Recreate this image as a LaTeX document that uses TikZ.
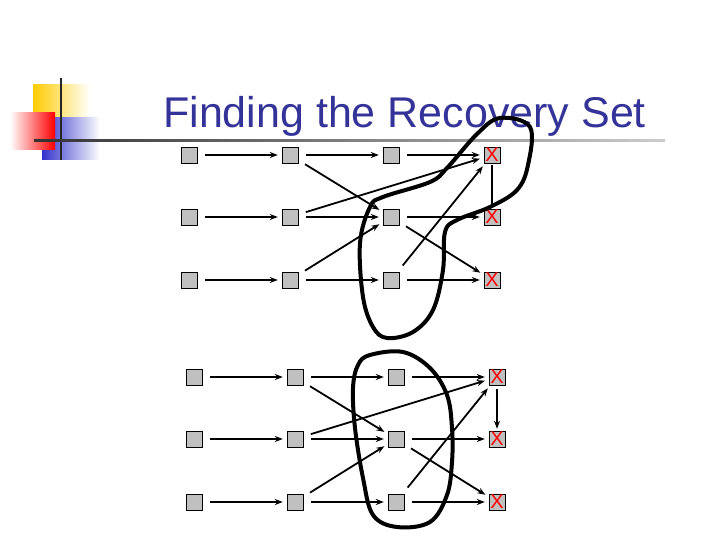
\documentclass[tikz,border=0pt]{standalone}
\usepackage{fontspec}
\setmainfont{Liberation Sans}
\usepackage{tikz}
\usetikzlibrary{arrows.meta}
\definecolor{titlecolor}{RGB}{51, 51, 153}
\definecolor{boxcolor}{RGB}{192, 192, 192}
\definecolor{logoyellow}{RGB}{255, 204, 0}
\definecolor{logoblue}{RGB}{51, 51, 204}

\begin{document}
\begin{tikzpicture}[
    x=1pt, y=-1pt,
    cell/.style={rectangle, draw, fill=boxcolor, minimum size=16pt, inner sep=0pt},
    lost/.style={cell, text=red, font=\fontsize{20}{20}\selectfont},
    arrow/.style={-{Stealth[length=8pt, width=6pt]}, line width=1.8pt, shorten <=8pt, shorten >=4pt},
    link/.style={line width=1.8pt, shorten <=2pt, shorten >=2pt},
    blob/.style={line width=4pt, line join=round}
]
\useasboundingbox (0,0) rectangle (720,540);

% Logo
\shade[left color=logoyellow, right color=white] (33,85) rectangle (90,130);
\shade[left color=logoblue, right color=white] (42,118) rectangle (100,160);
\shade[left color=white, right color=red] (10,113) rectangle (55,150);
\draw[line width=2.5pt, black!85] (61,78) -- (61,160);
\shade[left color=black!80, right color=black!20] (34,139.5) rectangle (665,141.5);

% Title
\node[font=\fontsize{43}{43}\selectfont, text=titlecolor, anchor=base west, inner sep=0pt] (title) at (163,128) {Finding the Recovery Set};

% Upper graph
\node[cell] (a11) at (189,155) {};
\node[cell] (a12) at (290,155) {};
\node[cell] (a13) at (391,155) {};
\node[lost] (a14) at (492,155) {X};
\node[cell] (a21) at (189,217) {};
\node[cell] (a22) at (290,217) {};
\node[cell] (a23) at (391,217) {};
\node[lost] (a24) at (492,217) {X};
\node[cell] (a31) at (189,280) {};
\node[cell] (a32) at (290,280) {};
\node[cell] (a33) at (391,280) {};
\node[lost] (a34) at (492,280) {X};

\draw[arrow] (a11) -- (a12);
\draw[arrow] (a12) -- (a13);
\draw[arrow] (a13) -- (a14);
\draw[arrow] (a21) -- (a22);
\draw[arrow] (a22) -- (a23);
\draw[arrow] (a23) -- (a24);
\draw[arrow] (a31) -- (a32);
\draw[arrow] (a32) -- (a33);
\draw[arrow] (a33) -- (a34);
\draw[arrow] (a12) -- (a23);
\draw[arrow] (a22) -- (a14);
\draw[arrow] (a32) -- (a23);
\draw[arrow] (a23) -- (a34);
\draw[arrow] (a33) -- (a14);
\draw[link] (a14) -- (a24);

% Upper recovery set
\draw[blob] plot[smooth cycle, tension=0.6] coordinates {
    (530,127) (528,165) (517,190) (490,207) (457,220) (445,232) (443,270)
    (433,310) (413,332) (387,338) (373,327) (363,297) (360,243) (370,207)
    (383,197) (430,182) (447,168) (477,134) (500,118)};

% Lower graph
\node[cell] (b11) at (194,377) {};
\node[cell] (b12) at (295,377) {};
\node[cell] (b13) at (396,377) {};
\node[lost] (b14) at (497,377) {X};
\node[cell] (b21) at (194,439) {};
\node[cell] (b22) at (295,439) {};
\node[cell] (b23) at (396,439) {};
\node[lost] (b24) at (497,439) {X};
\node[cell] (b31) at (194,502) {};
\node[cell] (b32) at (295,502) {};
\node[cell] (b33) at (396,502) {};
\node[lost] (b34) at (497,502) {X};

\draw[arrow] (b11) -- (b12);
\draw[arrow] (b12) -- (b13);
\draw[arrow] (b13) -- (b14);
\draw[arrow] (b21) -- (b22);
\draw[arrow] (b22) -- (b23);
\draw[arrow] (b23) -- (b24);
\draw[arrow] (b31) -- (b32);
\draw[arrow] (b32) -- (b33);
\draw[arrow] (b33) -- (b34);
\draw[arrow] (b12) -- (b23);
\draw[arrow] (b22) -- (b14);
\draw[arrow] (b32) -- (b23);
\draw[arrow] (b23) -- (b34);
\draw[arrow] (b33) -- (b14);
\draw[arrow, shorten <=4pt, shorten >=2pt] (b14) -- (b24);

% Lower recovery set
\draw[blob] plot[smooth cycle, tension=0.6] coordinates {
    (370,355) (403,352) (430,368) (447,395) (452,428) (452,462) (447,495)
    (430,522) (397,527) (373,515) (363,478) (355,428) (353,388) (358,365)};

\end{tikzpicture}
\end{document}
